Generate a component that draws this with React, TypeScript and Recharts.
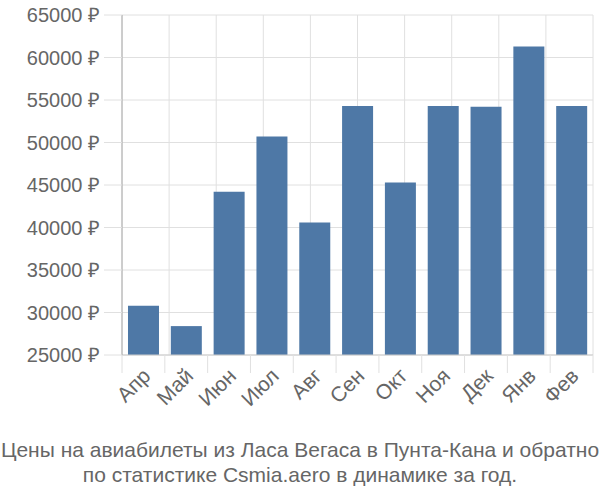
import React from "react";
import { BarChart, Bar, XAxis, YAxis, CartesianGrid } from "recharts";

const months = ["Апр", "Май", "Июн", "Июл", "Авг", "Сен", "Окт", "Ноя", "Дек", "Янв", "Фев"];
const prices = [30800, 28400, 44200, 50700, 40600, 54300, 45300, 54300, 54200, 61300, 54300];
const yTicks = [25000, 30000, 35000, 40000, 45000, 50000, 55000, 60000, 65000];
const boundaryTicks = months.map((_, i) => i).concat(months.length);

const data = months.map((m, i) => ({ month: m, price: prices[i] }));

const FONT = "'Liberation Sans', Arial, sans-serif";
const GRID = "#e0e0e0";

// label plus the boundary tick marks that hang below the plot
const MonthTick = (props: any) => {
  const { x, y, payload, index, visibleTicksCount } = props;
  const half = payload.offset || 0;
  const last = index === visibleTicksCount - 1;
  return (
    <g>
      <line x1={x - half} x2={x - half} y1={y - 16} y2={y + 2} stroke={GRID} />
      {last && <line x1={x + half} x2={x + half} y1={y - 16} y2={y + 2} stroke={GRID} />}
      <text
        x={x + 3}
        y={y + 1}
        transform={`rotate(-45 ${x + 3} ${y + 1})`}
        textAnchor="end"
        dominantBaseline="central"
        fill="#666"
        fontSize={21}
        fontFamily={FONT}
      >
        {payload.value}
      </text>
    </g>
  );
};

export default function App() {
  return (
    <div style={{ position: "absolute", left: 0, top: 0, width: 600, height: 500, background: "#fff" }}>
      <BarChart
        width={600}
        height={430}
        data={data}
        margin={{ top: 15, right: 7, left: 0, bottom: 0 }}
        barCategoryGap="14%"
      >
        <XAxis
          xAxisId="b"
          type="number"
          domain={[0, months.length]}
          ticks={boundaryTicks}
          height={0}
          hide
        />
        <XAxis
          xAxisId="m"
          dataKey="month"
          height={75}
          tickLine={false}
          axisLine={{ stroke: "#ccc" }}
          tick={<MonthTick />}
          tickSize={6}
          tickMargin={10}
          interval={0}
        />
        <YAxis
          domain={[25000, 65000]}
          ticks={yTicks}
          width={122}
          tickSize={18}
          tickMargin={4}
          tickLine={{ stroke: GRID }}
          axisLine={{ stroke: "#aaa" }}
          tick={{ fill: "#666", fontSize: 20, fontFamily: FONT }}
          tickFormatter={(v: number) => `${v} ₽`}
        />
        <CartesianGrid xAxisId="b" stroke={GRID} />
        <Bar xAxisId="m" dataKey="price" fill="#4e78a6" isAnimationActive={false} />
      </BarChart>
      <div
        style={{
          textAlign: "center",
          color: "#666",
          fontFamily: FONT,
          fontSize: 21,
          lineHeight: "25px",
          marginTop: 7,
          whiteSpace: "nowrap",
        }}
      >
        Цены на авиабилеты из Ласа Вегаса в Пунта-Кана и обратно
        <br />
        по статистике Csmia.aero в динамике за год.
      </div>
    </div>
  );
}
